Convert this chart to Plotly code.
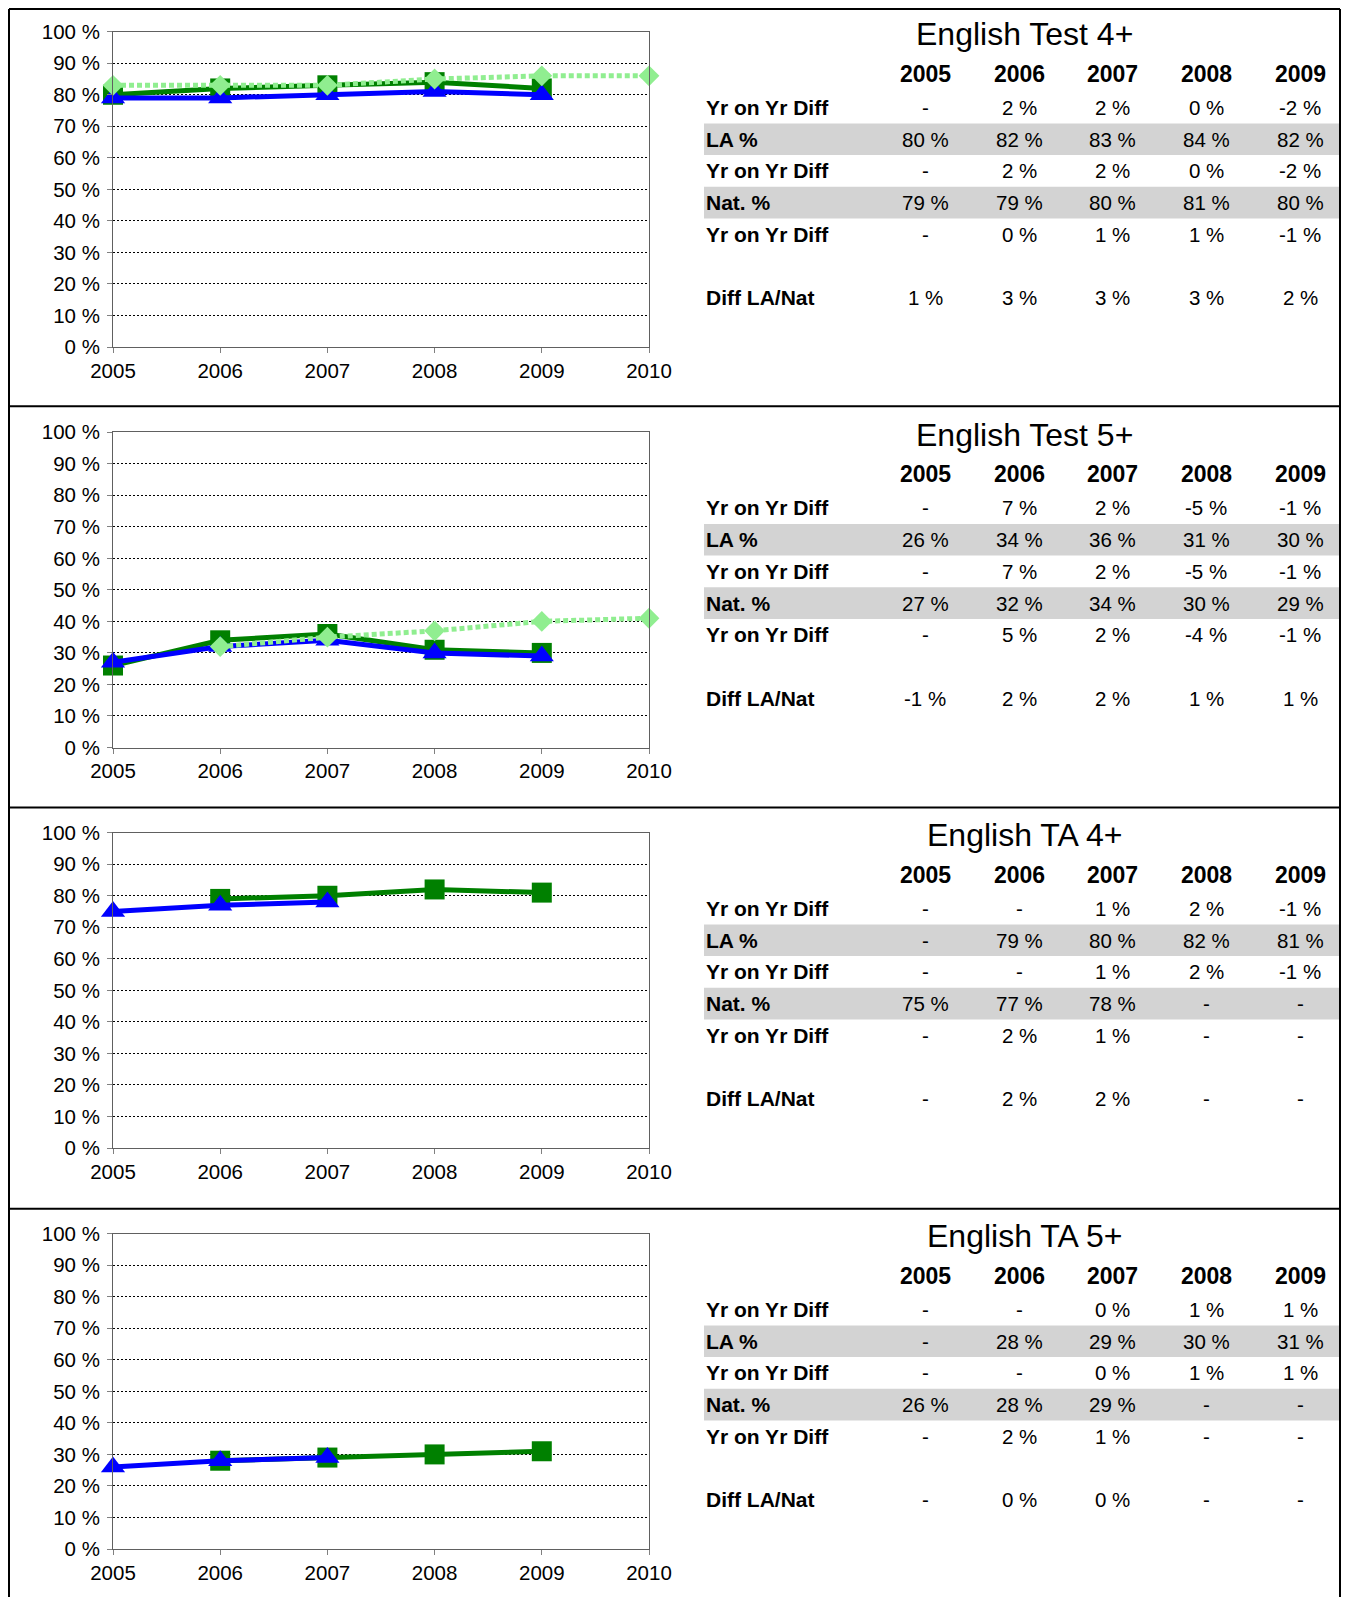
import plotly.graph_objects as go

# page body has an 8px default margin; the figure is sized/positioned to compensate
PAGE_W, PAGE_H = 1349, 1605
BODY = 8
W, H = PAGE_W - 2 * BODY, PAGE_H - 2 * BODY
FONT = "Liberation Sans, Arial, sans-serif"

years = [2005, 2006, 2007, 2008, 2009, 2010]
table_years = ["2005", "2006", "2007", "2008", "2009"]
y_ticks = [0, 10, 20, 30, 40, 50, 60, 70, 80, 90, 100]
y_tick_text = ["0 %", "10 %", "20 %", "30 %", "40 %", "50 %", "60 %", "70 %", "80 %", "90 %", "100 %"]
row_labels = ["Yr on Yr Diff", "LA %", "Yr on Yr Diff", "Nat. %", "Yr on Yr Diff", "", "Diff LA/Nat"]

titles = ["English Test 4+", "English Test 5+", "English TA 4+", "English TA 5+"]

# series values (percent)
la_test4 = [80, 82, 83, 84, 82]
nat_test4 = [79, 79, 80, 81, 80]
target_test4 = [83, 83, 83, 85, 86, 86]

la_test5 = [26, 34, 36, 31, 30]
nat_test5 = [27, 32, 34, 30, 29]
target_test5 = [None, 32, 35, 37, 40, 41]

la_ta4 = [None, 79, 80, 82, 81]
nat_ta4 = [75, 77, 78, None, None]
target_ta4 = [None, None, None, None, None, None]

la_ta5 = [None, 28, 29, 30, 31]
nat_ta5 = [26, 28, 29, None, None]
target_ta5 = [None, None, None, None, None, None]

# table rows
table_test4 = [
    ["-", "2 %", "2 %", "0 %", "-2 %"],
    ["80 %", "82 %", "83 %", "84 %", "82 %"],
    ["-", "2 %", "2 %", "0 %", "-2 %"],
    ["79 %", "79 %", "80 %", "81 %", "80 %"],
    ["-", "0 %", "1 %", "1 %", "-1 %"],
    ["", "", "", "", ""],
    ["1 %", "3 %", "3 %", "3 %", "2 %"],
]
table_test5 = [
    ["-", "7 %", "2 %", "-5 %", "-1 %"],
    ["26 %", "34 %", "36 %", "31 %", "30 %"],
    ["-", "7 %", "2 %", "-5 %", "-1 %"],
    ["27 %", "32 %", "34 %", "30 %", "29 %"],
    ["-", "5 %", "2 %", "-4 %", "-1 %"],
    ["", "", "", "", ""],
    ["-1 %", "2 %", "2 %", "1 %", "1 %"],
]
table_ta4 = [
    ["-", "-", "1 %", "2 %", "-1 %"],
    ["-", "79 %", "80 %", "82 %", "81 %"],
    ["-", "-", "1 %", "2 %", "-1 %"],
    ["75 %", "77 %", "78 %", "-", "-"],
    ["-", "2 %", "1 %", "-", "-"],
    ["", "", "", "", ""],
    ["-", "2 %", "2 %", "-", "-"],
]
table_ta5 = [
    ["-", "-", "0 %", "1 %", "1 %"],
    ["-", "28 %", "29 %", "30 %", "31 %"],
    ["-", "-", "0 %", "1 %", "1 %"],
    ["26 %", "28 %", "29 %", "-", "-"],
    ["-", "2 %", "1 %", "-", "-"],
    ["", "", "", "", ""],
    ["-", "0 %", "0 %", "-", "-"],
]

panels = [
    (la_test4, nat_test4, target_test4, table_test4),
    (la_test5, nat_test5, target_test5, table_test5),
    (la_ta4, nat_ta4, target_ta4, table_ta4),
    (la_ta5, nat_ta5, target_ta5, table_ta5),
]


def px(x):
    # page x -> paper fraction
    return (x - BODY) / W


def py(y):
    # page y -> paper fraction
    return 1 - (y - BODY) / H


offsets = [0, 400.5, 801, 1202]
col_x = [925, 1019, 1112.5, 1206, 1300]
row_y = [107.5, 139.2, 170.9, 202.6, 234.3, 266.0, 297.7]

LEFT_X, RIGHT_X, TOP_Y, BOTTOM_Y = 9, 1340, 9, PAGE_H - BODY

fig = go.Figure()
shapes = []
annotations = []
layout_axes = {}

for i, (la, nat, tgt, tbl) in enumerate(panels):
    off = offsets[i]
    n = i + 1
    xa = "x" if n == 1 else f"x{n}"
    ya = "y" if n == 1 else f"y{n}"

    fig.add_trace(go.Scatter(
        x=years[:5], y=la, mode="lines+markers", xaxis=xa, yaxis=ya,
        line=dict(color="#008000", width=5),
        marker=dict(symbol="square", size=20, color="#008000"),
        cliponaxis=False, showlegend=False, name="LA %"))
    fig.add_trace(go.Scatter(
        x=years[:5], y=nat, mode="lines+markers", xaxis=xa, yaxis=ya,
        line=dict(color="#0000FF", width=5),
        marker=dict(symbol="triangle-up", size=21, color="#0000FF"),
        cliponaxis=False, showlegend=False, name="Nat. %"))
    if any(v is not None for v in tgt):
        fig.add_trace(go.Scatter(
            x=years, y=tgt, mode="lines+markers", xaxis=xa, yaxis=ya,
            line=dict(color="#90EE90", width=5, dash="5px,3px"),
            marker=dict(symbol="diamond", size=16, color="#90EE90"),
            cliponaxis=False, showlegend=False, name="Target"))

    xkey = "xaxis" if n == 1 else f"xaxis{n}"
    ykey = "yaxis" if n == 1 else f"yaxis{n}"
    layout_axes[xkey] = dict(
        domain=[px(113), px(649)], range=[2005, 2010], anchor=ya,
        automargin=False,
        tickvals=years, ticktext=[str(y) for y in years],
        ticks="outside", ticklen=5, tickcolor="#808080",
        showgrid=False, zeroline=False, showline=True, linecolor="#606060",
        linewidth=1, mirror=True,
        tickfont=dict(family=FONT, size=20.5, color="black"))
    layout_axes[ykey] = dict(
        domain=[py(347 + off), py(31.7 + off)], range=[0, 100], anchor=xa,
        automargin=False,
        tickvals=y_ticks, ticktext=y_tick_text,
        ticks="outside", ticklen=5, tickcolor="#808080",
        showgrid=True, gridcolor="black", griddash="2px,2px", gridwidth=1,
        zeroline=False, showline=True, linecolor="#606060", linewidth=1,
        mirror=True, ticklabelstandoff=3,
        tickfont=dict(family=FONT, size=20.5, color="black"))

    # gray bands
    for r in (1, 3):
        yc = row_y[r] + off
        shapes.append(dict(type="rect", xref="paper", yref="paper",
                           x0=px(704), x1=px(RIGHT_X), y0=py(yc + 15.8), y1=py(yc - 15.8),
                           fillcolor="#D3D3D3", line=dict(width=0), layer="below"))

    annotations.append(dict(x=px(1025), y=py(34 + off), xref="paper", yref="paper",
                            text=titles[i], showarrow=False, xanchor="center", yanchor="middle",
                            font=dict(family=FONT, size=32, color="black")))
    for c, yr in enumerate(table_years):
        annotations.append(dict(x=px(col_x[c]), y=py(73.7 + off), xref="paper", yref="paper",
                                text=f"<b>{yr}</b>", showarrow=False, xanchor="center", yanchor="middle",
                                font=dict(family=FONT, size=23, color="black")))
    for r, lab in enumerate(row_labels):
        if lab:
            annotations.append(dict(x=px(704), y=py(row_y[r] + off), xref="paper", yref="paper",
                                    text=f"<b>{lab}</b>", showarrow=False, xanchor="left", yanchor="middle",
                                    font=dict(family=FONT, size=21, color="black")))
        for c, val in enumerate(tbl[r]):
            if val:
                annotations.append(dict(x=px(col_x[c]), y=py(row_y[r] + off), xref="paper", yref="paper",
                                        text=val, showarrow=False, xanchor="center", yanchor="middle",
                                        font=dict(family=FONT, size=20.5, color="black")))

# outer border and separators
shapes.append(dict(type="line", xref="paper", yref="paper", x0=px(LEFT_X), x1=px(LEFT_X), y0=py(TOP_Y), y1=py(BOTTOM_Y),
                   line=dict(color="black", width=2)))
shapes.append(dict(type="line", xref="paper", yref="paper", x0=px(RIGHT_X), x1=px(RIGHT_X), y0=py(TOP_Y), y1=py(BOTTOM_Y),
                   line=dict(color="black", width=2)))
for ys in [TOP_Y, 406.3, 807.5, 1208.8]:
    shapes.append(dict(type="line", xref="paper", yref="paper", x0=px(LEFT_X), x1=px(RIGHT_X), y0=py(ys), y1=py(ys),
                       line=dict(color="black", width=2)))

fig.update_layout(
    width=W, height=H, margin=dict(l=0, r=0, t=0, b=0, pad=0),
    paper_bgcolor="white", plot_bgcolor="white",
    showlegend=False, shapes=shapes, annotations=annotations,
    **layout_axes)

fig.write_html("out.html")
